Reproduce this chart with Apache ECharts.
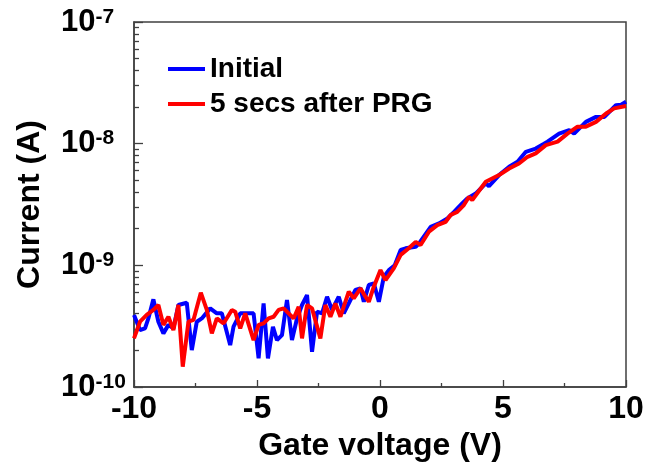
<!DOCTYPE html>
<html>
<head>
<meta charset="utf-8">
<script src="https://cdn.jsdelivr.net/npm/echarts@6/dist/echarts.min.js"></script>
<style>html,body{margin:0;padding:0;background:#fff}#c{width:648px;height:469px}</style>
</head>
<body>
<div id="c"></div>
<script>
// Gate voltage (V) and current (A)
var blueV = [-10,-9.756,-9.552,-9.416,-9.212,-9.009,-8.805,-8.601,-8.398,-8.194,-7.855,-7.651,-7.447,-7.244,-6.904,-6.633,-6.429,-6.090,-5.954,-5.682,-5.275,-5.139,-4.935,-4.732,-4.555,-4.352,-4.189,-3.985,-3.781,-3.578,-3.374,-3.170,-2.967,-2.763,-2.559,-2.356,-2.152,-1.948,-1.677,-1.473,-1.202,-0.998,-0.794,-0.658,-0.455,-0.251,-0.047,0.157,0.360,0.6,0.84,1.04,1.45,1.58,2.06,2.40,2.74,3.01,3.35,3.55,3.89,4.30,4.43,4.84,5.25,5.59,5.93,6.33,6.67,6.81,7.28,7.69,7.89,8.37,8.78,9.12,9.59,9.80,10];
var blueI = [3.91e-10,2.94e-10,3.03e-10,3.66e-10,5.25e-10,3.44e-10,2.76e-10,3.24e-10,3.03e-10,4.72e-10,4.93e-10,2.01e-10,3.44e-10,3.66e-10,4.43e-10,4.03e-10,4.03e-10,2.21e-10,3.13e-10,4.03e-10,4.03e-10,4.03e-10,1.72e-10,4.86e-10,1.72e-10,3.13e-10,2.43e-10,2.67e-10,5.19e-10,2.43e-10,3.66e-10,4.72e-10,5.70e-10,1.95e-10,4.16e-10,4.03e-10,5.52e-10,4.30e-10,5.52e-10,4.03e-10,5.19e-10,6.27e-10,6.47e-10,5.02e-10,6.89e-10,7.11e-10,5.02e-10,8.07e-10,9.14e-10,1.0e-9,1.34e-9,1.38e-9,1.42e-9,1.51e-9,2.07e-9,2.21e-9,2.43e-9,2.75e-9,3.24e-9,3.55e-9,3.89e-9,4.72e-9,4.47e-9,5.52e-9,6.46e-9,7.10e-9,8.57e-9,9.12e-9,1.00e-8,1.04e-8,1.21e-8,1.29e-8,1.21e-8,1.51e-8,1.66e-8,1.66e-8,2.07e-8,2.09e-8,2.21e-8];
var redV = [-10,-9.756,-9.484,-9.212,-9.009,-8.805,-8.601,-8.398,-8.194,-8.018,-7.787,-7.583,-7.284,-7.040,-6.836,-6.633,-6.361,-6.022,-5.886,-5.682,-5.479,-5.139,-4.935,-4.732,-4.528,-4.325,-4.121,-3.917,-3.714,-3.510,-3.306,-3.170,-2.967,-2.763,-2.424,-2.220,-2.016,-1.813,-1.609,-1.270,-1.066,-0.794,-0.591,-0.455,-0.251,0.020,0.224,0.56,0.84,1.17,1.45,1.65,1.99,2.33,2.67,2.87,3.14,3.41,3.62,3.75,4.30,4.84,5.25,5.65,6.0,6.33,6.74,7.22,7.62,8.03,8.37,8.78,9.19,9.52,10];
var redI = [2.51e-10,3.44e-10,3.91e-10,4.30e-10,4.72e-10,3.24e-10,3.78e-10,2.94e-10,4.72e-10,1.47e-10,3.44e-10,3.56e-10,5.96e-10,4.30e-10,2.76e-10,3.66e-10,3.33e-10,4.30e-10,4.16e-10,3.03e-10,4.03e-10,2.43e-10,3.24e-10,3.33e-10,3.66e-10,3.78e-10,4.30e-10,4.43e-10,4.03e-10,3.66e-10,4.57e-10,2.51e-10,4.72e-10,4.43e-10,2.51e-10,4.72e-10,3.78e-10,4.86e-10,3.78e-10,6.07e-10,5.36e-10,6.47e-10,5.52e-10,5.02e-10,6.67e-10,9.14e-10,7.57e-10,9.44e-10,1.22e-9,1.38e-9,1.56e-9,1.47e-9,1.89e-9,2.14e-9,2.28e-9,2.59e-9,2.75e-9,3.13e-9,3.66e-9,3.44e-9,4.86e-9,5.52e-9,6.25e-9,6.87e-9,7.80e-9,8.32e-9,9.72e-9,1.04e-8,1.21e-8,1.38e-8,1.38e-8,1.51e-8,1.77e-8,1.95e-8,2.04e-8];
var seriesNames = ['Initial', '5 secs after PRG'];
var xTicks = [-10, -5, 0, 5, 10];
var yDecades = [1e-10, 1e-9, 1e-8, 1e-7];

function pairs(xs, ys) { return xs.map(function (x, i) { return [x, ys[i]]; }); }
var minorVals = [];
for (var d = 0; d < yDecades.length - 1; d++) {
  for (var m = 2; m <= 9; m++) minorVals.push(m * yDecades[d]);
}
var FONT = '"Liberation Sans", Arial, sans-serif';
var AX = '#404040';

var chart = echarts.init(document.getElementById('c'), null, {renderer: 'canvas'});
chart.setOption({
  animation: false,
  backgroundColor: '#fff',
  textStyle: {fontFamily: FONT},
  grid: {left: 134, right: 22, top: 22, bottom: 82, show: true, borderColor: AX, borderWidth: 1.5, backgroundColor: 'transparent'},
  legend: {
    orient: 'vertical', left: 163, top: 50, itemWidth: 37, itemHeight: 4, itemGap: 7,
    icon: 'rect',
    textStyle: {fontFamily: FONT, fontWeight: 'bold', fontSize: 28, color: '#000'},
    data: seriesNames
  },
  xAxis: {
    type: 'value', min: xTicks[0], max: xTicks[xTicks.length - 1], interval: 5,
    name: 'Gate voltage (V)', nameLocation: 'middle', nameGap: 38,
    nameTextStyle: {fontFamily: FONT, fontWeight: 'bold', fontSize: 32, color: '#000'},
    axisLine: {onZero: false, lineStyle: {color: AX, width: 1.5}},
    axisTick: {show: true, inside: true, length: 7, lineStyle: {color: AX, width: 1.3}},
    minorTick: {show: true, splitNumber: 2, length: 4, lineStyle: {color: AX, width: 1.3}},
    splitLine: {show: false},
    axisLabel: {fontFamily: FONT, fontWeight: 'bold', fontSize: 32, color: '#000', margin: 6}
  },
  yAxis: [{
    type: 'log', logBase: 10, min: yDecades[0], max: yDecades[yDecades.length - 1], position: 'left',
    name: 'Current (A)', nameLocation: 'middle', nameGap: 88,
    nameTextStyle: {fontFamily: FONT, fontWeight: 'bold', fontSize: 32, color: '#000'},
    axisLine: {show: true, onZero: false, lineStyle: {color: AX, width: 1.5}},
    axisTick: {show: true, inside: true, length: 9, lineStyle: {color: AX, width: 1.3}},
    splitLine: {show: false},
    axisLabel: {
      align: 'left', margin: 73,
      formatter: function (v) { return '{a|10}{b|' + Math.round(Math.log10(v)) + '}'; },
      rich: {
        a: {fontFamily: FONT, fontWeight: 'bold', fontSize: 31, color: '#000', lineHeight: 31},
        b: {fontFamily: FONT, fontWeight: 'bold', fontSize: 21, color: '#000', verticalAlign: 'top', lineHeight: 21}
      }
    }
  }, {
    type: 'log', logBase: 10, min: yDecades[0], max: yDecades[yDecades.length - 1], position: 'left', offset: 0,
    axisLine: {show: false, onZero: false},
    axisLabel: {show: false},
    splitLine: {show: false},
    axisTick: {show: true, inside: true, length: 5, customValues: minorVals, lineStyle: {color: AX, width: 1.3}}
  }],
  series: [{
    name: seriesNames[0], type: 'line', data: pairs(blueV, blueI), showSymbol: false, symbol: 'none',
    lineStyle: {color: '#0000ff', width: 4}, itemStyle: {color: '#0000ff'}, z: 2
  }, {
    name: seriesNames[1], type: 'line', data: pairs(redV, redI), showSymbol: false, symbol: 'none',
    lineStyle: {color: '#ff0000', width: 4}, itemStyle: {color: '#ff0000'}, z: 3
  }]
});
</script>
</body>
</html>
